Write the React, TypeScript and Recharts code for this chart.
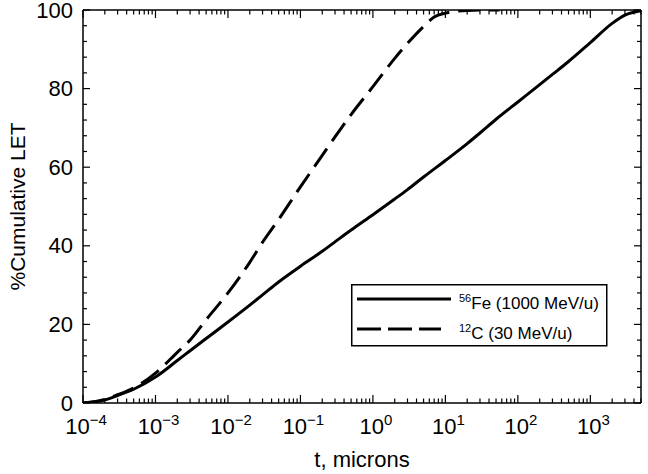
import React from 'react';
import { LineChart, Line, XAxis, YAxis, Legend } from 'recharts';

// ---- data ----
const feT = [1e-4, 2e-4, 3e-4, 5e-4, 1e-3, 2e-3, 3e-3, 5e-3, 1e-2, 2e-2, 3e-2, 5e-2, 0.1, 0.2, 0.3, 0.5, 1, 2, 3, 5, 10, 20, 30, 50, 100, 200, 300, 500, 1000, 2000, 3000, 5000];
const feLET = [0, 0.8, 1.9, 3.5, 6.6, 10.8, 13.3, 16.4, 20.6, 24.9, 27.5, 30.8, 34.8, 38.6, 41.0, 44.0, 47.9, 51.9, 54.3, 57.5, 61.7, 66.0, 68.7, 72.2, 76.6, 81.0, 83.6, 86.9, 91.7, 96.6, 98.7, 99.8];
const cT = [1e-4, 2e-4, 3e-4, 5e-4, 1e-3, 2e-3, 3e-3, 5e-3, 1e-2, 2e-2, 3e-2, 5e-2, 0.1, 0.2, 0.3, 0.5, 1, 2, 3, 5, 7, 10, 20, 30, 56];
const cLET = [0, 0.9, 2.1, 3.8, 7.6, 12.9, 16.0, 21.2, 28, 35.8, 40.9, 46.7, 55, 63, 67.7, 73.4, 80.5, 87.7, 91.5, 95.8, 98.2, 99.2, 99.9, 100, 100];

const xDecades = [1e-4, 1e-3, 1e-2, 1e-1, 1, 10, 100, 1000];
const xMinorMult = [2, 3, 4, 5, 6, 7, 8, 9];
const xMax = 5000;
const yTicks = [0, 4, 8, 12, 16, 20, 24, 28, 32, 36, 40, 44, 48, 52, 56, 60, 64, 68, 72, 76, 80, 84, 88, 92, 96, 100];
const yLabeled = [0, 20, 40, 60, 80, 100];

const feName = 'Fe (1000 MeV/u)';
const feMass = '56';
const cName = 'C (30 MeV/u)';
const cMass = '12';

const feData = feT.map((t, i) => ({ t, v: feLET[i] }));
const cData = cT.map((t, i) => ({ t, v: cLET[i] }));

const xTicks: number[] = [];
xDecades.forEach((d) => {
  xTicks.push(d);
  xMinorMult.forEach((m) => {
    const v = d * m;
    if (v <= xMax) xTicks.push(v);
  });
});

const FONT = 'Liberation Sans, Arial, Helvetica, sans-serif';

const isDecade = (v: number) => Math.abs(Math.log10(v) - Math.round(Math.log10(v))) < 1e-6;
const expText = (v: number) => {
  const e = Math.round(Math.log10(v));
  return e < 0 ? '\u2212' + String(-e) : String(e);
};

const BottomTick = (props: any) => {
  const x = Number(props.x);
  const y = Number(props.y);
  const v = props.payload.value;
  const major = isDecade(v);
  const len = major ? 8 : 4.5;
  return (
    <g>
      <path d={`M${x},${y}V${y - len}`} stroke="#000" strokeWidth={1.2} fill="none" />
      {major && (
        <text x={x + 3} y={y + 31} textAnchor="middle" fontSize={22} fontFamily={FONT} fill="#000">
          10<tspan dy={-9} fontSize={15}>{expText(v)}</tspan>
        </text>
      )}
    </g>
  );
};

const TopTick = (props: any) => {
  const x = Number(props.x);
  const y = Number(props.y);
  const major = isDecade(props.payload.value);
  const len = major ? 8 : 4.5;
  return <path d={`M${x},${y}V${y + len}`} stroke="#000" strokeWidth={1.2} fill="none" />;
};

const LeftTick = (props: any) => {
  const x = Number(props.x);
  const y = Number(props.y);
  const v = props.payload.value;
  const major = yLabeled.includes(v);
  const len = major ? 7 : 4;
  return (
    <g>
      <path d={`M${x},${y}H${x + len}`} stroke="#000" strokeWidth={1.2} fill="none" />
      {major && (
        <text x={x - 10} y={y + 7.5} textAnchor="end" fontSize={22} fontFamily={FONT} fill="#000">
          {v}
        </text>
      )}
    </g>
  );
};

const RightTick = (props: any) => {
  const x = Number(props.x);
  const y = Number(props.y);
  const major = yLabeled.includes(props.payload.value);
  const len = major ? 7 : 4;
  return <path d={`M${x},${y}H${x - len}`} stroke="#000" strokeWidth={1.2} fill="none" />;
};

const XLabel = (props: any) => {
  const { viewBox } = props;
  const cx = viewBox.x + viewBox.width / 2;
  return (
    <text x={cx} y={viewBox.y + 64} textAnchor="middle" fontSize={22} fontFamily={FONT} fill="#000">
      t, microns
    </text>
  );
};

const YLabel = (props: any) => {
  const { viewBox } = props;
  const cy = viewBox.y + viewBox.height / 2;
  const x = 25;
  return (
    <text x={x} y={cy} transform={`rotate(-90 ${x} ${cy})`} textAnchor="middle" fontSize={21} fontFamily={FONT} fill="#000">
      %Cumulative LET
    </text>
  );
};

const LegendBox = () => (
  <svg width={257} height={63} style={{ display: 'block' }}>
    <rect x={0.75} y={0.75} width={255} height={61} fill="#fff" stroke="#000" strokeWidth={1.5} />
    <line x1={6} y1={15} x2={100} y2={15} stroke="#000" strokeWidth={3} />
    <text x={108} y={25} fontFamily={FONT} fontSize={17} fill="#000">
      <tspan fontSize={11} dy={-7}>{feMass}</tspan>
      <tspan dy={7}>{feName}</tspan>
    </text>
    <line x1={6} y1={45} x2={90} y2={45} stroke="#000" strokeWidth={3} strokeDasharray="24 7" />
    <text x={108} y={55} fontFamily={FONT} fontSize={17} fill="#000">
      <tspan fontSize={11} dy={-7}>{cMass}</tspan>
      <tspan dy={7}>{cName}</tspan>
    </text>
  </svg>
);

const axisLineStyle = { stroke: '#000', strokeWidth: 1.5 };

export default function App() {
  return (
    <div style={{ position: 'absolute', left: 0, top: 0, width: 648, height: 474, background: '#fff' }}>
      <LineChart width={648} height={474} margin={{ top: 9, right: 6, bottom: 0, left: 0 }}>
        <XAxis
          xAxisId="b"
          dataKey="t"
          type="number"
          scale="log"
          domain={[1e-4, xMax]}
          allowDataOverflow
          ticks={xTicks}
          interval={0}
          tickSize={0}
          tickMargin={0}
          tickLine={false}
          height={71}
          axisLine={axisLineStyle}
          tick={<BottomTick />}
          label={<XLabel />}
        />
        <XAxis
          xAxisId="top"
          orientation="top"
          dataKey="t"
          type="number"
          scale="log"
          domain={[1e-4, xMax]}
          allowDataOverflow
          ticks={xTicks}
          interval={0}
          tickSize={0}
          tickMargin={0}
          tickLine={false}
          height={1}
          axisLine={axisLineStyle}
          tick={<TopTick />}
        />
        <YAxis
          yAxisId="l"
          type="number"
          domain={[0, 100]}
          allowDataOverflow
          ticks={yTicks}
          interval={0}
          tickSize={0}
          tickMargin={0}
          tickLine={false}
          width={83}
          axisLine={axisLineStyle}
          tick={<LeftTick />}
          label={<YLabel />}
        />
        <YAxis
          yAxisId="r"
          orientation="right"
          type="number"
          domain={[0, 100]}
          allowDataOverflow
          ticks={yTicks}
          interval={0}
          tickSize={0}
          tickMargin={0}
          tickLine={false}
          width={1}
          axisLine={axisLineStyle}
          tick={<RightTick />}
        />
        <Line
          xAxisId="b"
          yAxisId="l"
          data={feData}
          dataKey="v"
          type="monotone"
          stroke="#000"
          strokeWidth={3}
          dot={false}
          activeDot={false}
          isAnimationActive={false}
        />
        <Line
          xAxisId="b"
          yAxisId="l"
          data={cData}
          dataKey="v"
          type="monotone"
          stroke="#000"
          strokeWidth={3}
          strokeDasharray="22 9"
          dot={false}
          activeDot={false}
          isAnimationActive={false}
        />
        <Legend
          layout="horizontal"
          verticalAlign="middle"
          align="center"
          wrapperStyle={{ position: 'absolute', left: 351, top: 284, width: 257, height: 63 }}
          content={<LegendBox />}
        />
      </LineChart>
    </div>
  );
}
